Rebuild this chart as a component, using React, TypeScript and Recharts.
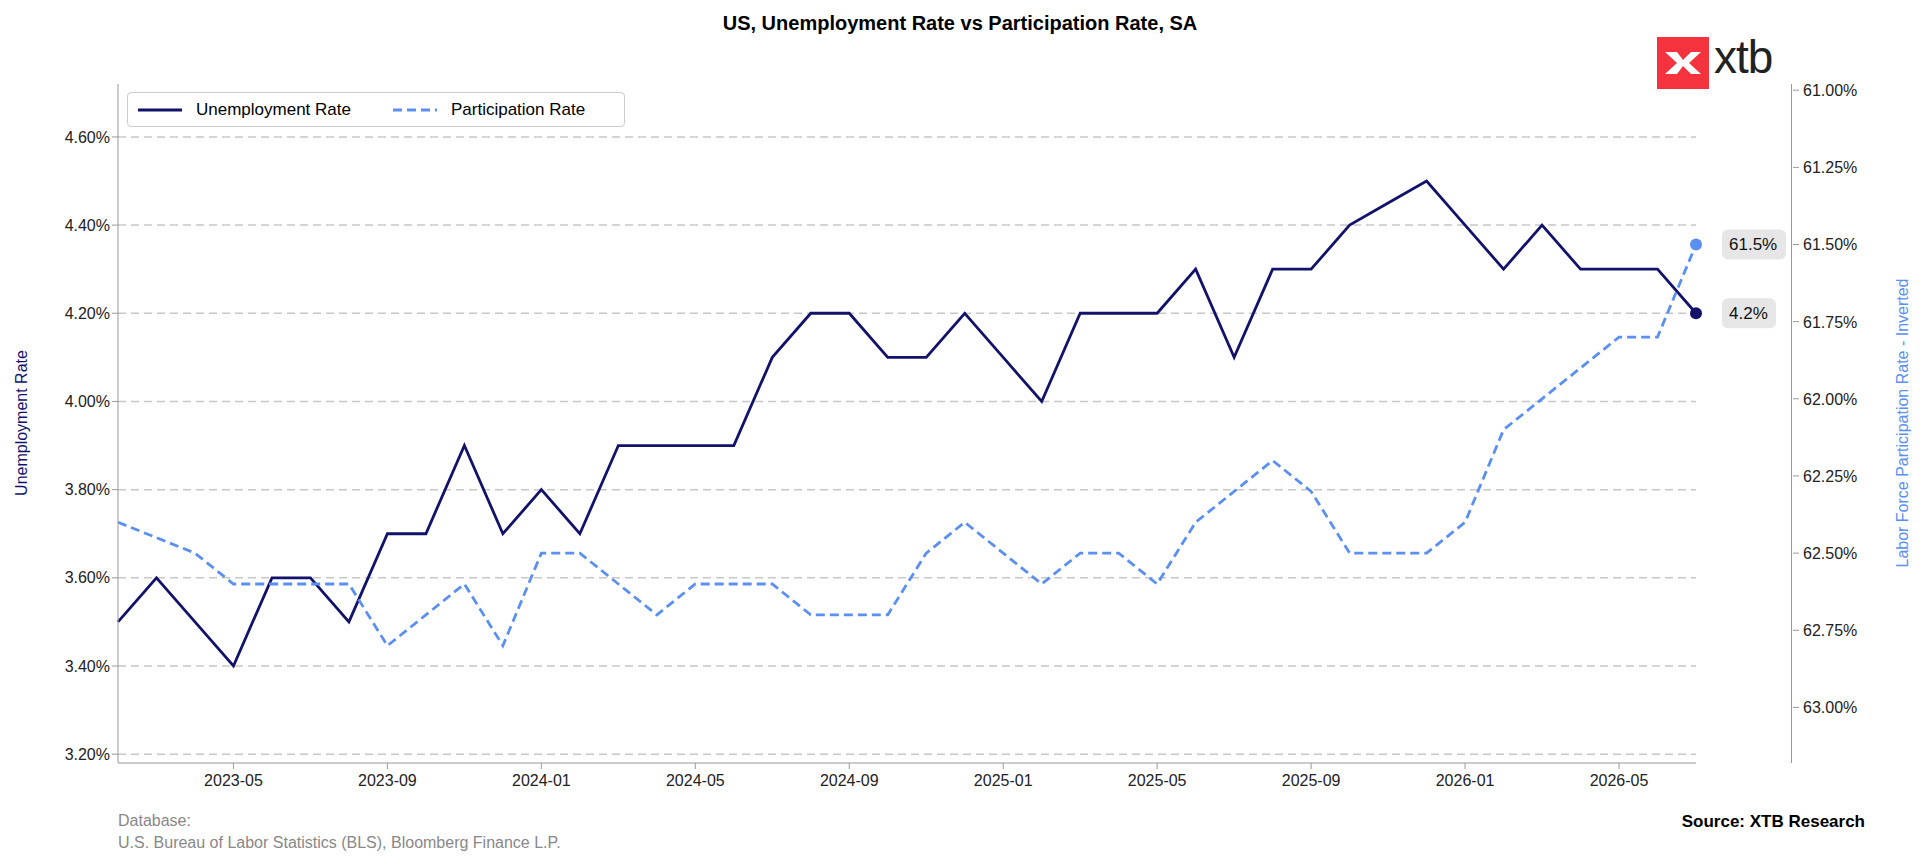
import React from 'react';
import {
  LineChart,
  Line,
  XAxis,
  YAxis,
  CartesianGrid,
} from 'recharts';

const months = [
  '2023-02', '2023-03', '2023-04', '2023-05', '2023-06', '2023-07', '2023-08', '2023-09',
  '2023-10', '2023-11', '2023-12', '2024-01', '2024-02', '2024-03', '2024-04', '2024-05',
  '2024-06', '2024-07', '2024-08', '2024-09', '2024-10', '2024-11', '2024-12', '2025-01',
  '2025-02', '2025-03', '2025-04', '2025-05', '2025-06', '2025-07', '2025-08', '2025-09',
  '2025-10', '2025-11', '2025-12', '2026-01', '2026-02', '2026-03', '2026-04', '2026-05',
  '2026-06', '2026-07',
];

const unemployment = [
  3.5, 3.6, 3.5, 3.4, 3.6, 3.6, 3.5, 3.7, 3.7, 3.9, 3.7, 3.8, 3.7, 3.9, 3.9, 3.9,
  3.9, 4.1, 4.2, 4.2, 4.1, 4.1, 4.2, 4.1, 4.0, 4.2, 4.2, 4.2, 4.3, 4.1, 4.3, 4.3,
  4.4, 4.45, 4.5, 4.4, 4.3, 4.4, 4.3, 4.3, 4.3, 4.2,
];

const participation = [
  62.4, 62.45, 62.5, 62.6, 62.6, 62.6, 62.6, 62.8, 62.7, 62.6, 62.8, 62.5, 62.5, 62.6, 62.7, 62.6,
  62.6, 62.6, 62.7, 62.7, 62.7, 62.5, 62.4, 62.5, 62.6, 62.5, 62.5, 62.6, 62.4, 62.3, 62.2, 62.3,
  62.5, 62.5, 62.5, 62.4, 62.1, 62.0, 61.9, 61.8, 61.8, 61.5,
];

const xTicks = ['2023-05', '2023-09', '2024-01', '2024-05', '2024-09', '2025-01', '2025-05', '2025-09', '2026-01', '2026-05'];
const leftTicks = [3.2, 3.4, 3.6, 3.8, 4.0, 4.2, 4.4, 4.6];
const rightTicks = [61.0, 61.25, 61.5, 61.75, 62.0, 62.25, 62.5, 62.75, 63.0];

const NAVY = '#12126b';
const BLUE = '#5b8ff0';
const FONT = '"Liberation Sans", Arial, sans-serif';
const RIGHT_SHIFT = 95;

const data = months.map((m, i) => ({ month: m, ur: unemployment[i], pr: participation[i] }));
const last = data.length - 1;

function endDot(color: string, text: string) {
  return (props: any) => {
    const { cx, cy, index } = props;
    if (index !== last) return <g key={index} />;
    return (
      <g key={index}>
        <circle cx={cx} cy={cy} r={6} fill={color} />
        <rect x={cx + 26} y={cy - 15} width={text.length * 10 + 14} height={30} rx={6} fill="#e6e6e6" />
        <text x={cx + 33} y={cy + 6} fontSize={17} fill="#111" fontFamily={FONT}>{text}</text>
      </g>
    );
  };
}

function RightTick(props: any) {
  const { x, y, payload } = props;
  const x0 = x + RIGHT_SHIFT;
  return (
    <g>
      <line x1={x0 - 6} y1={y} x2={x0} y2={y} stroke="#999" />
      <text x={x0 + 4} y={y + 6} fontSize={16} fill="#222" fontFamily={FONT}>{payload.value.toFixed(2) + '%'}</text>
    </g>
  );
}

export default function App() {
  const tick = { fontSize: 16, fill: '#222', fontFamily: FONT };
  return (
    <div style={{ position: 'fixed', left: 0, top: 0, width: 1920, height: 866, background: '#fff', fontFamily: FONT }}>
      <div style={{ position: 'absolute', top: 12, width: 1920, textAlign: 'center', fontWeight: 'bold', fontSize: 20 }}>
        US, Unemployment Rate vs Participation Rate, SA
      </div>
      <LineChart width={1920} height={866} data={data} margin={{ top: 84, left: 38, right: 124, bottom: 73 }}>
        <CartesianGrid yAxisId="l" vertical={false} horizontalValues={leftTicks} stroke="#c8c8c8" strokeDasharray="8 5" strokeWidth={1.5} />
        <XAxis dataKey="month" ticks={xTicks} tick={tick} tickSize={6} stroke="#999" tickMargin={6} interval={0} />
        <YAxis yAxisId="l" domain={[3.18, 4.72]} ticks={leftTicks} width={80} tick={tick} tickSize={6} stroke="#999"
          tickFormatter={(v: number) => v.toFixed(2) + '%'} />
        <YAxis yAxisId="r" orientation="right" reversed domain={[60.98, 63.18]} ticks={rightTicks} width={100}
          tick={<RightTick />} tickLine={false} axisLine={false} />
        <Line yAxisId="l" dataKey="ur" stroke={NAVY} strokeWidth={2.8} dot={endDot(NAVY, '4.2%')} isAnimationActive={false} />
        <Line yAxisId="r" dataKey="pr" stroke={BLUE} strokeWidth={2.8} strokeDasharray="9 5" dot={endDot(BLUE, '61.5%')} isAnimationActive={false} />
      </LineChart>
      <div style={{ position: 'absolute', left: 1696 + RIGHT_SHIFT, top: 84, width: 1, height: 679, background: '#999' }} />
      <div style={{ position: 'absolute', left: 22, top: 423, transform: 'translate(-50%,-50%) rotate(-90deg)', color: NAVY, fontSize: 16, whiteSpace: 'nowrap' }}>
        Unemployment Rate
      </div>
      <div style={{ position: 'absolute', left: 1903, top: 423, transform: 'translate(-50%,-50%) rotate(-90deg)', color: BLUE, fontSize: 16, whiteSpace: 'nowrap' }}>
        Labor Force Participation Rate - Inverted
      </div>
      <div style={{ position: 'absolute', left: 127, top: 92, width: 496, height: 33, border: '1px solid #ccc', borderRadius: 4, background: '#fff', display: 'flex', alignItems: 'center', fontSize: 17 }}>
        <svg width={48} height={10} style={{ marginLeft: 8 }}><line x1={2} y1={5} x2={46} y2={5} stroke={NAVY} strokeWidth={3} /></svg>
        <span style={{ marginLeft: 12 }}>Unemployment Rate</span>
        <svg width={48} height={10} style={{ marginLeft: 40 }}><line x1={2} y1={5} x2={46} y2={5} stroke={BLUE} strokeWidth={3} strokeDasharray="9 5" /></svg>
        <span style={{ marginLeft: 12 }}>Participation Rate</span>
      </div>
      <div style={{ position: 'absolute', left: 1657, top: 37, width: 52, height: 52, background: '#f5333f', display: 'flex', alignItems: 'center', justifyContent: 'center' }}>
        <svg width={40} height={30} viewBox="0 0 40 30">
          <path d="M2 4 L14 4 L20 12 L28 4 L38 4 L26 15 L38 26 L28 26 L20 18 L14 26 L2 26 L14 15 Z" fill="#fff" />
        </svg>
      </div>
      <div style={{ position: 'absolute', left: 1714, top: 30, fontSize: 46, color: '#222', fontWeight: 500, letterSpacing: -1 }}>xtb</div>
      <div style={{ position: 'absolute', left: 118, top: 810, fontSize: 16, color: '#888', lineHeight: '22px' }}>
        Database:<br />U.S. Bureau of Labor Statistics (BLS), Bloomberg Finance L.P.
      </div>
      <div style={{ position: 'absolute', right: 55, top: 812, fontSize: 17, fontWeight: 'bold' }}>Source: XTB Research</div>
    </div>
  );
}
